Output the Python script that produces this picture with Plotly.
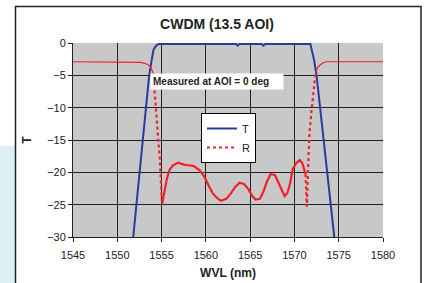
import plotly.graph_objects as go

# Transmission T (dB) vs wavelength (nm)
t_wvl = [1551.8, 1552.4, 1552.9, 1553.3, 1553.6, 1553.9, 1554.1, 1554.4, 1554.7, 1555.0,
         1558.0, 1561.0, 1563.4, 1563.6, 1563.8, 1566.3, 1566.5, 1566.7, 1569.0, 1571.8,
         1572.2, 1572.5, 1572.9, 1573.3, 1573.7, 1574.1, 1574.5]
t_val = [-30, -22, -15, -10, -5, -2.5, -1, -0.4, -0.15, -0.15,
         -0.15, -0.15, -0.15, -0.4, -0.15, -0.15, -0.4, -0.15, -0.15, -0.15,
         -2.5, -5, -10, -15, -20, -25, -30]

# Reflection R (dB), split into flat, steep and rippled parts
r_left_wvl = [1545, 1552.3, 1552.6, 1553.0, 1553.4, 1553.7, 1553.9, 1554.05]
r_left_val = [-2.9, -2.9, -3.0, -3.1, -3.3, -3.6, -4.1, -4.6]

r_drop_wvl = [1554.05, 1554.3, 1554.6, 1554.8, 1554.95, 1555.05]
r_drop_val = [-4.6, -9, -14, -18, -22, -25]

r_mid_wvl = [1555.05, 1555.2, 1555.4, 1555.6, 1555.9, 1556.3, 1556.9, 1557.5, 1558.0,
             1558.6, 1559.3, 1559.8, 1560.3, 1560.8, 1561.3, 1561.7, 1562.3, 1562.8,
             1563.3, 1563.8, 1564.3, 1564.8, 1565.2, 1565.6, 1566.1, 1566.5, 1566.9,
             1567.3, 1567.8, 1568.2, 1568.6, 1568.9, 1569.2, 1569.5, 1569.8, 1570.2,
             1570.6, 1570.9, 1571.1, 1571.25]
r_mid_val = [-25, -24, -22.5, -21, -19.6, -18.9, -18.5, -18.8, -18.9,
             -19.0, -19.7, -20.6, -22.0, -23.3, -24.0, -24.4, -24.1, -23.3,
             -22.3, -21.6, -21.8, -22.6, -23.6, -24.2, -24.1, -23.0, -21.4,
             -20.3, -20.4, -21.5, -22.8, -23.7, -23.2, -21.8, -19.5, -18.6,
             -18.1, -18.6, -19.4, -20.3]

r_rise_wvl = [1571.25, 1571.4, 1571.55, 1571.7, 1571.9, 1572.1, 1572.3, 1572.45]
r_rise_val = [-20.3, -25.3, -19, -14, -10.9, -7.8, -5.7, -4.5]

r_right_wvl = [1572.45, 1572.6, 1572.9, 1573.2, 1573.6, 1580]
r_right_val = [-4.5, -3.8, -3.4, -3.1, -2.9, -2.9]

x_ticks = [1545, 1550, 1555, 1560, 1565, 1570, 1575, 1580]
y_ticks = [0, -5, -10, -15, -20, -25, -30]

BLUE = "#2B3A9E"
RED = "#F0202A"
FONT = "Liberation Sans, Arial, sans-serif"

fig = go.Figure()
fig.add_trace(go.Scatter(x=t_wvl, y=t_val, mode="lines", name="T",
                         line=dict(color=BLUE, width=2)))
fig.add_trace(go.Scatter(x=r_drop_wvl, y=r_drop_val, mode="lines", name="R",
                         line=dict(color=RED, width=2.2, dash="dot")))
fig.add_trace(go.Scatter(x=r_left_wvl, y=r_left_val, mode="lines", showlegend=False,
                         line=dict(color=RED, width=1.2)))
fig.add_trace(go.Scatter(x=r_mid_wvl, y=r_mid_val, mode="lines", showlegend=False,
                         line=dict(color=RED, width=2.2)))
fig.add_trace(go.Scatter(x=r_rise_wvl, y=r_rise_val, mode="lines", showlegend=False,
                         line=dict(color=RED, width=2.2, dash="dot")))
fig.add_trace(go.Scatter(x=r_right_wvl, y=r_right_val, mode="lines", showlegend=False,
                         line=dict(color=RED, width=1.2)))

L, R_, T, B = 73, 44, 43, 46
W, H = 427, 283
pw, ph = W - L - R_, H - T - B

def px(xp):
    return (xp - L) / pw

def py(yp):
    return (H - B - yp) / ph

fig.update_layout(
    width=W, height=H,
    margin=dict(l=L, r=R_, t=T, b=B, autoexpand=False),
    paper_bgcolor="white",
    plot_bgcolor="#C8C8C8",
    font=dict(family=FONT, size=11, color="#222"),
    title=dict(text="<b>CWDM (13.5 AOI)</b>", x=217 / W, xanchor="center",
               y=1 - 24 / H, yanchor="middle", font=dict(size=14, color="#222")),
    showlegend=True,
    legend=dict(x=px(201), y=py(113), xanchor="left", yanchor="top",
                bgcolor="white", bordercolor="black", borderwidth=1,
                font=dict(size=11, color="#222"), tracegroupgap=0,
                itemwidth=30),
    shapes=[
        dict(type="rect", xref="paper", yref="paper", layer="below",
             x0=px(0), x1=px(15), y0=py(146), y1=py(290),
             fillcolor="#DDF0F6", line=dict(width=0)),
        dict(type="rect", xref="paper", yref="paper", layer="below",
             x0=px(15.5), x1=px(421), y0=py(6.5), y1=py(295),
             fillcolor="rgba(0,0,0,0)", line=dict(color="#222", width=1.5)),
    ],
    annotations=[
        dict(text="<b>Measured at AOI = 0 deg</b>", xref="paper", yref="paper",
             x=px(150), y=py(73), xanchor="left", yanchor="top",
             showarrow=False, bgcolor="white", font=dict(size=10, color="#222"),
             borderpad=2, width=128, align="left"),
    ],
)
fig.update_xaxes(range=[1545, 1580], tickvals=x_ticks, ticks="outside", ticklen=4,
                 tickcolor="#222", showgrid=True, gridcolor="#222", gridwidth=1,
                 showline=True, linecolor="#222", linewidth=1, zeroline=False,
                 ticklabelstandoff=4,
                 title=dict(text="<b>WVL (nm)</b>", font=dict(size=12), standoff=8),
                 tickfont=dict(size=11))
fig.update_yaxes(range=[-30, 0], tickvals=y_ticks, ticks="outside", ticklen=4,
                 tickcolor="#222", showgrid=True, gridcolor="#222", gridwidth=1,
                 showline=True, linecolor="#222", linewidth=1, zeroline=False,
                 title=dict(text="<b>T</b>", font=dict(size=12), standoff=12),
                 tickfont=dict(size=11))

fig.write_html("out.html", config={"displayModeBar": False},
               post_script="document.body.style.margin='0';")
